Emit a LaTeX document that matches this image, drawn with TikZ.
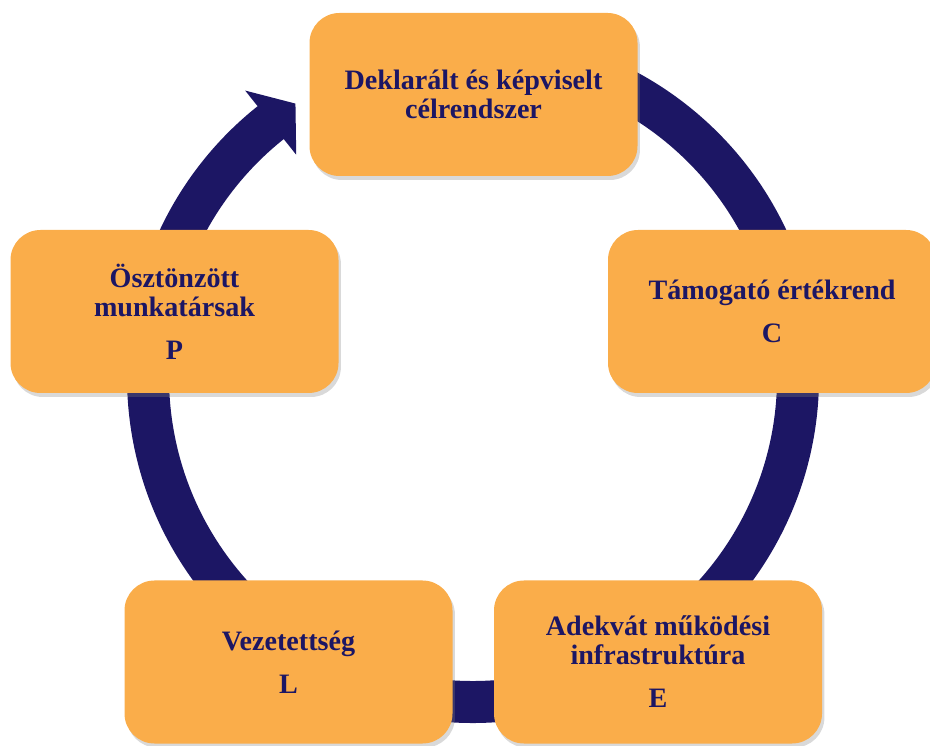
\documentclass[tikz,border=0pt]{standalone}
\usepackage{fontspec}
\setmainfont{Liberation Serif}
\usetikzlibrary{shadows}
\definecolor{navy}{RGB}{28,22,100}
\definecolor{orangebox}{RGB}{250,173,74}

\begin{document}
\begin{tikzpicture}[
  box/.style={rectangle, rounded corners=0.75cm, fill=orangebox,
    minimum width=8.2cm, minimum height=4.075cm, align=center, text=navy,
    font=\fontsize{20}{20.6}\selectfont\bfseries,
    drop shadow={opacity=0.3, shadow xshift=0.06cm, shadow yshift=-0.1cm}},
  ring/.style={draw=navy, line width=1.05cm}]
\useasboundingbox (0,0) rectangle (23.25,18.625);
\coordinate (O) at (11.825,9.2);
% the cycle
\draw[ring] ([shift={(95:8.125)}]O) arc[start angle=95, end angle=-232, radius=8.125];
\fill[navy] ([shift={(128.5:7.1)}]O) -- ([shift={(123:8.15)}]O) -- ([shift={(128.5:9.15)}]O) -- cycle;
% the five boxes
\node[box] (goal) at (11.8375,16.2625) {Deklarált és képviselt\\célrendszer};
\node[box] (values) at (19.3,10.8375) {Támogató értékrend\\[10pt]C};
\node[box] (infra) at (16.45,2.075) {Adekvát működési\\infrastruktúra\\[10pt]E};
\node[box] (lead) at (7.2125,2.075) {Vezetettség\\[10pt]L};
\node[box] (people) at (4.3625,10.8375) {Ösztönzött\\munkatársak\\[10pt]P};
\end{tikzpicture}
\end{document}
